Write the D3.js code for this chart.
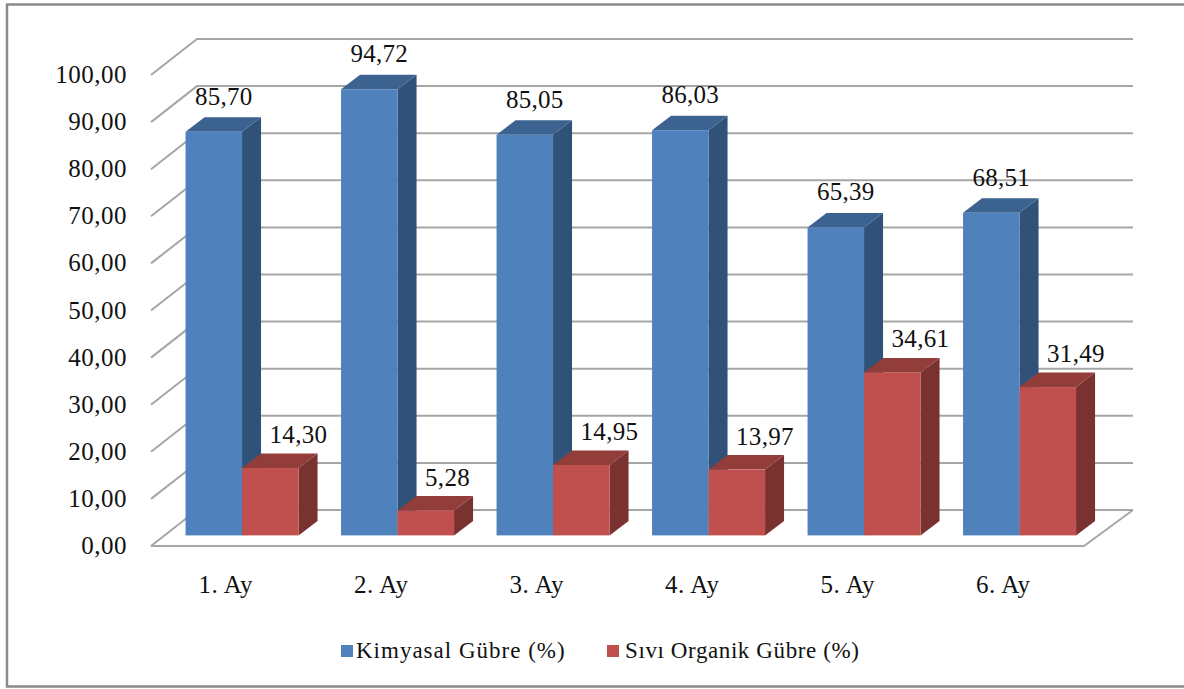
<!DOCTYPE html>
<html>
<head>
<meta charset="utf-8">
<script src="https://cdn.jsdelivr.net/npm/d3@7"></script>
<style>
  html, body { margin: 0; padding: 0; background: #fff; }
  svg { display: block; }
  text { font-family: "Liberation Serif", serif; fill: #111; }
</style>
</head>
<body>
<svg id="chart" width="1184" height="689"></svg>
<script>
const months = ['1. Ay', '2. Ay', '3. Ay', '4. Ay', '5. Ay', '6. Ay']
const kimyasal = [85.70, 94.72, 85.05, 86.03, 65.39, 68.51]
const organik = [14.30, 5.28, 14.95, 13.97, 34.61, 31.49]
const yTicks = [0, 10, 20, 30, 40, 50, 60, 70, 80, 90, 100]
const seriesNames = ['Kimyasal Gübre (%)', 'Sıvı Organik Gübre (%)']

const fmt = (v) => v.toFixed(2).replace('.', ',')
const svg = d3.select('#chart')

// page frame, open on the right like the source picture
svg.append('path')
  .attr('d', 'M1184,4.5H7V686.5H1184')
  .attr('fill', 'none').attr('stroke', '#8a8a8a').attr('stroke-width', 2.5)

// front plane of the chart, the walls sit behind it by (wallDx, wallDy)
const wallDx = 46
const wallDy = -36
const y = d3.scaleLinear().domain([0, 100]).range([546, 75])
const x = d3.scaleBand().domain(months).range([151, 1084])

// bars stand a bit inside the floor
const barDx = 19
const barDy = -14.5
const barInsetX = 22.8
const barInsetY = -10.6
const barW = 56.5

const grid = svg.append('g').attr('fill', 'none').attr('stroke', '#a6a6a6').attr('stroke-width', 2)
yTicks.forEach((t) => {
  grid.append('path')
    .attr('d', `M${x.range()[0]},${y(t)}L${x.range()[0] + wallDx},${y(t) + wallDy}L${x.range()[1] + wallDx + 3},${y(t) + wallDy}`)
})
// floor
grid.append('path')
  .attr('d', `M${x.range()[0]},${y(0)}L${x.range()[1]},${y(0)}L${x.range()[1] + wallDx + 3},${y(0) + wallDy}`)

const barBase = y(0) + barInsetY
const barTop = (v) => barBase - (y(0) - y(v))
const groupX = (m) => x(m) + (x.bandwidth() - 2 * barW - barDx) / 2 + barInsetX

function drawBar (left, value, front, top, side) {
  const g = svg.append('g')
  const right = left + barW
  const t = barTop(value)
  g.append('polygon')
    .attr('points', [[right, barBase], [right + barDx, barBase + barDy], [right + barDx, t + barDy], [right, t]].join(' '))
    .attr('fill', side)
  g.append('polygon')
    .attr('points', [[left, t], [left + barDx, t + barDy], [right + barDx, t + barDy], [right, t]].join(' '))
    .attr('fill', top)
  g.append('rect')
    .attr('x', left).attr('y', t)
    .attr('width', barW).attr('height', barBase - t)
    .attr('fill', front)
}

months.forEach((m, i) => {
  const left = groupX(m)
  drawBar(left, kimyasal[i], '#4f81bd', '#3c628f', '#305279')
  drawBar(left + barW, organik[i], '#c0504d', '#923d3a', '#7a3230')
})

// value labels, stretched a little wider than the font as in the source
months.forEach((m, i) => {
  const left = groupX(m)
  svg.append('text')
    .attr('x', left + barW / 2 + 10).attr('y', barTop(kimyasal[i]) - 27)
    .attr('text-anchor', 'middle').attr('font-size', 25).attr('letter-spacing', 0.3).text(fmt(kimyasal[i]))
  svg.append('text')
    .attr('x', left + barW + 27.5).attr('y', barTop(organik[i]) - 25)
    .attr('font-size', 25).attr('letter-spacing', 0.3).text(fmt(organik[i]))
})

// y axis labels
yTicks.forEach((t) => {
  svg.append('text')
    .attr('x', 127).attr('y', y(t) + 8)
    .attr('text-anchor', 'end').attr('font-size', 25).attr('letter-spacing', 0.5).text(fmt(t))
})

// category labels
months.forEach((m) => {
  svg.append('text')
    .attr('x', x(m) + x.bandwidth() / 2 - 3).attr('y', 593)
    .attr('text-anchor', 'middle').attr('font-size', 25).attr('letter-spacing', 0.5).text(m)
})

// legend
const legendColors = ['#4f81bd', '#c0504d']
const legendX = [341, 607]
const legendTextX = [356, 625]
const legendSpacing = [1, 0.6]
seriesNames.forEach((name, i) => {
  svg.append('rect')
    .attr('x', legendX[i]).attr('y', 645)
    .attr('width', 12).attr('height', 12)
    .attr('fill', legendColors[i])
  svg.append('text')
    .attr('x', legendTextX[i]).attr('y', 658)
    .attr('font-size', 23).attr('letter-spacing', legendSpacing[i]).text(name)
})
</script>
</body>
</html>
